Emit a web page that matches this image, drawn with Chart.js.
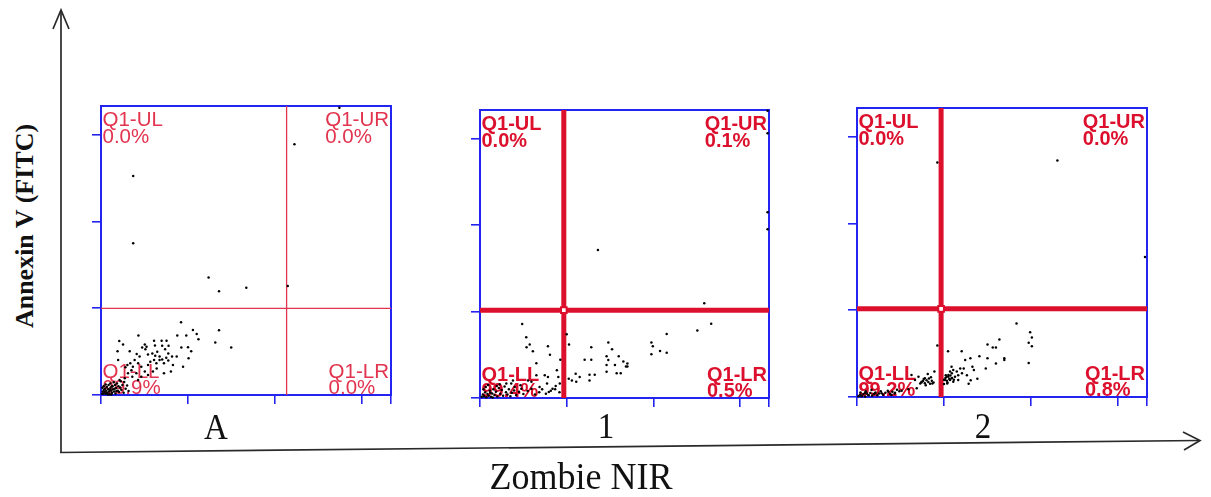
<!DOCTYPE html>
<html>
<head>
<meta charset="utf-8">
<script src="https://cdn.jsdelivr.net/npm/chart.js@4.4.1/dist/chart.umd.min.js"></script>
<style>
  html, body { margin: 0; padding: 0; background: #fff; }
  body { width: 1211px; height: 497px; position: relative; overflow: hidden; }
  .panel { position: absolute; }
  .txt { position: absolute; font-family: "Liberation Serif", "Times New Roman", serif; color: #111; white-space: nowrap; line-height: 1; }
  #ylab { left: 25px; top: 226px; font-weight: bold; font-size: 26px; transform: translate(-50%, -50%) rotate(-90deg); }
  .cat { font-size: 33px; transform: translate(-50%, -100%) scaleY(1.06); }
  #xlab { left: 581px; top: 494px; font-size: 36px; transform: translate(-50%, -100%) scaleY(1.06); }
</style>
</head>
<body>
<svg width="1211" height="497" style="position:absolute;left:0;top:0">
  <g stroke="#2a2a2a" stroke-width="1.7" fill="none">
    <line x1="61" y1="453" x2="61" y2="10"/>
    <polyline points="53,29 61,10 69,29"/>
    <line x1="60" y1="452.5" x2="1199" y2="440.5"/>
    <polyline points="1183,432 1200,440.5 1184,450"/>
  </g>
</svg>

<div class="panel" style="left:81px;top:96px"><canvas id="panelA" width="320" height="319"></canvas></div>
<div class="panel" style="left:460px;top:100px"><canvas id="panel1" width="319" height="318"></canvas></div>
<div class="panel" style="left:837px;top:98px"><canvas id="panel2" width="320" height="319"></canvas></div>

<div class="txt" id="ylab">Annexin V (FITC)</div>
<div class="txt cat" id="catA" style="left:216px;top:444px"></div>
<div class="txt cat" id="cat1" style="left:606px;top:443px"></div>
<div class="txt cat" id="cat2" style="left:983px;top:443px"></div>
<div class="txt" id="xlab">Zombie NIR</div>

<script>
// ---- data -------------------------------------------------------------
const sampleNames = ['A', '1', '2'];
const quadrantNames = ['Q1-UL', 'Q1-UR', 'Q1-LL', 'Q1-LR'];

// quadrant percentages, in the order UL, UR, LL, LR
const pctA  = [0.0, 0.0, 99.9, 0.0];
const pct1  = [0.0, 0.1, 99.4, 0.5];
const pct2  = [0.0, 0.0, 99.2, 0.8];

// quadrant gate positions (Zombie NIR, Annexin V), channel units 0-1000
const gateX = [640, 290, 290];
const gateY = [300, 305, 305];

// axis tick positions
const xTickValues = [0, 300, 600, 900, 1000];
const yTickValues = [0, 300, 600, 900];

// events, [Zombie NIR, Annexin V]
const eventsA = [
  [111,758],[111,525],[371,407],[407,359],[501,371],[644,377],[667,868],[822,994],
  [276,252],[129,206],[63,187],[76,175],[317,225],[330,211],[407,224],[336,193],[394,182],[449,164],
  [57,151],[99,151],[123,142],[151,175],[157,167],[153,158],[142,164],[183,188],[186,171],[209,188],
  [226,188],[211,170],[233,170],[221,158],[263,206],[294,206],[277,164],[300,165],[311,151],[302,127],
  [261,133],[245,133],[232,144],[225,129],[194,150],[187,136],[177,144],[162,140],[170,115],[183,121],
  [202,121],[211,123],[217,110],[232,119],[241,81],[217,75],[283,98],[248,104],[192,92],[162,104],
  [128,110],[101,110],[84,96],[105,86],[122,75],[93,75],[108,63],[82,58],[64,52],[128,52],[139,63],[59,121],
  [91,104],[139,98],[151,81],[179,81],[110,98],[162,69],[191,110],[133,133],[116,121],[202,133],
  [8,5],[12,10],[15,4],[18,15],[22,8],[25,20],[28,12],[30,3],[33,25],[35,16],[38,8],[40,30],[42,20],
  [45,12],[48,35],[50,5],[52,24],[55,40],[58,15],[60,30],[20,28],[14,22],[10,18],[26,35],[32,40],
  [6,12],[5,25],[16,36],[36,2],[44,44],[62,10],[66,26],[70,18],[74,35],[78,8],[80,45],[85,22],[90,33],
  [95,14],[68,48],[4,4],[9,30],[19,6],[24,2],[30,18],[37,30],[47,22],[53,14],
  [197,1014],[201,1014],[494,1014],[500,1014],[507,1014],[531,1014]
];

const events1 = [
  [146,257],[160,211],[172,186],[161,176],[183,162],[235,180],[242,150],[195,121],[278,133],[300,221],
  [308,186],[266,96],[271,73],[224,79],[235,73],[195,79],[232,50],[238,21],[251,32],[262,42],[276,50],
  [178,56],[166,61],[206,38],[114,61],[108,50],[91,50],[120,38],[143,32],[178,32],[307,67],[318,61],
  [331,84],[345,73],[333,56],[362,133],[385,176],[385,133],[379,81],[397,81],[379,61],
  [776,329],[800,258],[752,234],[646,222],[593,193],[598,180],[623,163],[646,157],[593,152],[444,193],
  [457,169],[438,145],[444,132],[480,145],[438,115],[467,115],[496,127],[510,120],[505,109],[510,109],
  [438,91],[473,86],[487,86],[408,514],
  [995,997],[995,919],[995,645],[995,586],
  [6,4],[10,12],[14,6],[18,20],[22,3],[26,14],[30,8],[34,25],[38,4],[42,16],[46,30],[50,10],[55,22],
  [60,5],[65,35],[70,15],[75,28],[80,8],[85,40],[90,20],[95,12],[100,30],[105,6],[12,30],[20,38],
  [28,45],[36,18],[44,2],[58,42],[68,48],[110,18],[118,26],[125,10],[135,22],[140,44],[150,14],
  [165,24],[190,12],[205,20],[215,30],[228,15],[245,25],[260,30],[275,20],
  [196,1014],[200,1014],[498,1014],[505,1014],[512,1014],[540,1014]
];

const events2 = [
  [277,811],[691,818],[993,484],
  [550,254],[597,224],[603,206],[592,188],[603,176],[592,118],[491,199],[450,182],[468,171],[479,171],
  [508,134],[508,128],[479,116],[450,134],[422,141],[391,134],[373,128],[361,158],[314,158],[398,105],
  [403,93],[444,99],[415,63],[392,58],[385,46],[368,99],[356,99],[379,75],[362,82],[349,75],[344,88],
  [326,105],[332,93],[321,88],[338,70],[349,59],[315,76],[309,70],[321,59],[332,53],[326,65],[303,59],
  [311,47],[300,45],
  [277,178],[188,76],[200,59],[212,70],[223,53],[234,65],[244,80],[255,68],[267,88],[260,47],[237,41],
  [218,47],[206,30],[177,27],[154,22],[131,15],[108,18],[85,13],[62,13],[39,7],[16,3],[28,15],[119,7],
  [327,82],
  [222,50],[228,55],[234,48],[240,58],[246,52],[252,46],[258,56],[264,50],[230,62],[248,64],
  [300,60],[305,66],[310,56],[315,70],[318,62],[322,74],[328,66],[334,60],[306,75],[312,50],
  [5,3],[10,8],[16,4],[22,10],[28,2],[34,12],[40,6],[46,14],[52,4],[58,10],[64,16],[70,6],[76,12],
  [82,20],[90,8],[98,15],[106,22],[114,10],[122,18],[130,12],[138,25],[146,20],[12,16],[30,20],[50,24],
  [199,1017],[497,1014],[503,1014],[510,1016],[530,1016],[538,1018]
];

// ---- styling ------------------------------------------------------------
const AXIS_BLUE = '#2424f2';
const FRAME = { left: 20, right: 10, top: 10, bottom: 20 };

const panels = [
  { id: 'panelA', cat: 'catA', name: sampleNames[0], events: eventsA, pct: pctA, gx: gateX[0], gy: gateY[0],
    red: '#e2344f', gateWidth: 1.3, bold: false, fontSize: 20.5, marker: false },
  { id: 'panel1', cat: 'cat1', name: sampleNames[1], events: events1, pct: pct1, gx: gateX[1], gy: gateY[1],
    red: '#dc0f2d', gateWidth: 5, bold: true, fontSize: 20, marker: true },
  { id: 'panel2', cat: 'cat2', name: sampleNames[2], events: events2, pct: pct2, gx: gateX[2], gy: gateY[2],
    red: '#dc0f2d', gateWidth: 5, bold: true, fontSize: 20, marker: true }
];

// draws the quadrant names and percentages into the four corners of the plot
const quadrantLabels = {
  id: 'quadrantLabels',
  beforeDatasetsDraw(chart, args, opts) {
    const { ctx, chartArea: a } = chart;
    const pct = opts.values.map(v => v.toFixed(1) + '%');
    ctx.save();
    ctx.font = (opts.bold ? 'bold ' : '') + opts.size + 'px "Liberation Sans", Arial, sans-serif';
    ctx.fillStyle = opts.color;
    ctx.textAlign = 'left';
    ctx.textBaseline = 'alphabetic';
    const lx = a.left + 1.5;
    const rx = a.right - 2 - ctx.measureText(quadrantNames[1]).width;
    const rxB = a.right - 2 - ctx.measureText(quadrantNames[3]).width;
    ctx.fillText(quadrantNames[0], lx, a.top + 19.5);
    ctx.fillText(pct[0], lx, a.top + 36.5);
    ctx.fillText(quadrantNames[1], rx, a.top + 19.5);
    ctx.fillText(pct[1], rx, a.top + 36.5);
    ctx.fillText(quadrantNames[2], lx, a.bottom - 17.5);
    ctx.fillText(pct[2], lx, a.bottom - 1.5);
    ctx.fillText(quadrantNames[3], rxB, a.bottom - 17.5);
    ctx.fillText(pct[3], rxB, a.bottom - 1.5);
    ctx.restore();
  }
};

function edgeScale(position, size, ticks) {
  const horizontal = position === 'top' || position === 'bottom';
  const withTicks = Array.isArray(ticks);
  return {
    type: 'linear',
    position: position,
    min: 0,
    max: 1000,
    afterBuildTicks: s => { if (withTicks) s.ticks = ticks.map(v => ({ value: v })); },
    afterFit: s => { if (horizontal) s.height = size; else s.width = size; },
    ticks: { display: false },
    grid: withTicks
      ? { display: true, drawOnChartArea: false, drawTicks: true, tickLength: 9, color: AXIS_BLUE, lineWidth: 1.6 }
      : { display: false },
    border: { display: true, color: AXIS_BLUE, width: 2 }
  };
}

panels.forEach(p => {
  document.getElementById(p.cat).textContent = p.name;

  const datasets = [];
  if (p.marker) {
    datasets.push({
      data: [{ x: p.gx, y: p.gy }],
      pointStyle: 'rect', pointRadius: 4, backgroundColor: '#ffffff',
      borderColor: p.red, borderWidth: 2, clip: false
    });
  }
  datasets.push({
    data: p.events.map(e => ({ x: e[0], y: e[1] })),
    pointRadius: 1.25, pointStyle: 'circle', backgroundColor: '#000000', borderWidth: 0, clip: false
  });
  datasets.push({
    data: [{ x: p.gx, y: 0 }, { x: p.gx, y: 1000 }],
    showLine: true, pointRadius: 0, borderColor: p.red, borderWidth: p.gateWidth, clip: false
  });
  datasets.push({
    data: [{ x: 0, y: p.gy }, { x: 1000, y: p.gy }],
    showLine: true, pointRadius: 0, borderColor: p.red, borderWidth: p.gateWidth, clip: false
  });

  new Chart(document.getElementById(p.id), {
    type: 'scatter',
    data: { datasets },
    options: {
      responsive: false,
      animation: false,
      events: [],
      layout: { padding: 0 },
      plugins: {
        legend: { display: false },
        tooltip: { enabled: false },
        quadrantLabels: { values: p.pct, color: p.red, bold: p.bold, size: p.fontSize }
      },
      scales: {
        x: edgeScale('bottom', FRAME.bottom, xTickValues),
        y: edgeScale('left', FRAME.left, yTickValues),
        xTop: edgeScale('top', FRAME.top, null),
        yRight: edgeScale('right', FRAME.right, null)
      }
    },
    plugins: [quadrantLabels]
  });
});
</script>
</body>
</html>
